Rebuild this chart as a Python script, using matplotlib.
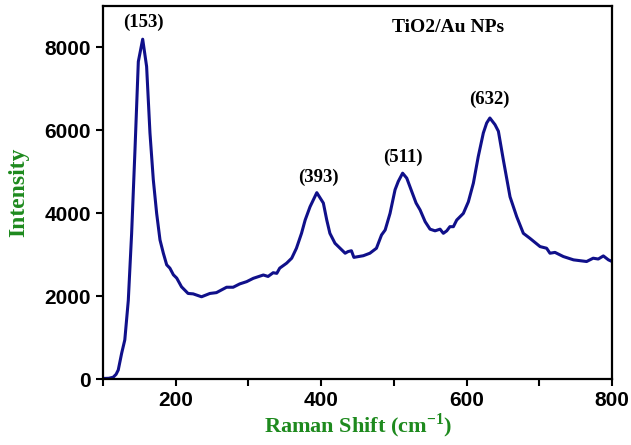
import matplotlib
matplotlib.use("Agg")
import matplotlib.pyplot as plt
from matplotlib.ticker import MultipleLocator

raman_shift = [100, 108, 114, 118, 121, 125.7, 130, 134.8, 139.4, 144, 148.6, 154.6, 160, 164.6, 169.2,
               173.8, 178.4, 183, 187.6, 192, 196.8, 201.4, 208, 217, 224, 235.5, 247, 256, 270,
               279, 288, 297.6, 306.7, 320.5, 327, 334, 339, 343, 352.5, 359.5, 366, 373, 378,
               384.7, 394, 403, 407.7, 412, 419, 426, 433, 437, 441.6, 445, 458, 467, 476, 483,
               488, 494.7, 501.6, 506, 512, 517.7, 524.5, 530.5, 536, 543, 549.7, 556.6, 563.5,
               568, 572.7, 577, 581.8, 586.4, 595.5, 602.4, 609.3, 616, 623, 627.6, 632, 639,
               643.7, 650.5, 659.7, 668.9, 678, 687, 701, 710, 714.6, 721.5, 733, 747, 765, 774,
               781, 788, 795, 800]
intensity = [20, 25, 50, 120, 225, 630, 950, 1900, 3520, 5530, 7660, 8200, 7540, 5940, 4810,
             4000, 3360, 3040, 2760, 2680, 2520, 2440, 2230, 2070, 2060, 1990, 2070, 2090, 2220,
             2220, 2300, 2355, 2435, 2515, 2480, 2570, 2555, 2680, 2800, 2920, 3160, 3520, 3840,
             4160, 4500, 4250, 3840, 3520, 3280, 3160, 3040, 3080, 3100, 2940, 2980, 3040, 3160, 3480,
             3600, 4000, 4570, 4770, 4970, 4850, 4530, 4250, 4085, 3800, 3620, 3580, 3620,
             3520, 3580, 3680, 3680, 3840, 4000, 4280, 4730, 5370, 5940, 6180, 6300, 6140,
             5980, 5290, 4400, 3920, 3520, 3400, 3200, 3160, 3040, 3060, 2960, 2880, 2840, 2920,
             2900, 2975, 2880, 2840]

peak_labels = ["(153)", "(393)", "(511)", "(632)"]
peak_label_x = [155, 396, 512.6, 631]
peak_label_y = [8600, 4860, 5360, 6740]

sample_name = "TiO2/Au NPs"
xlabel = "Raman Shift (cm$^{\\mathregular{-1}}$)"
ylabel = "Intensity"

green = "#1e8a1e"
navy = "#10108a"

plt.rcParams["mathtext.fontset"] = "custom"
plt.rcParams["mathtext.rm"] = "Liberation Serif:bold"
plt.rcParams["mathtext.bf"] = "Liberation Serif:bold"

fig = plt.figure(figsize=(6.31, 4.45), dpi=100)
ax = fig.add_axes([0.1632, 0.1476, 0.8068, 0.8389])
ax.plot(raman_shift, intensity, color=navy, lw=2.2)
ax.set_xlim(100, 800)
ax.set_ylim(0, 9000)
ax.xaxis.set_major_locator(MultipleLocator(200))
ax.xaxis.set_minor_locator(MultipleLocator(100))
ax.yaxis.set_major_locator(MultipleLocator(2000))

for s in ax.spines.values():
    s.set_linewidth(1.6)
ax.tick_params(which="both", direction="out", width=1.5, length=5, color="black")
for lab in ax.get_xticklabels() + ax.get_yticklabels():
    lab.set_fontfamily("Liberation Sans")
    lab.set_fontweight("bold")
    lab.set_fontsize(15)

serif = "Liberation Serif"
for t, x, y in zip(peak_labels, peak_label_x, peak_label_y):
    ax.text(x, y, t, ha="center", va="center", fontfamily=serif, fontweight="bold", fontsize=13.5)
ax.text(574.5, 8480, sample_name, ha="center", va="center", fontfamily=serif, fontweight="bold", fontsize=14)

ax.set_xlabel(xlabel, fontfamily=serif, fontweight="bold", fontsize=16, color=green, labelpad=1)
ax.set_ylabel(ylabel, fontfamily=serif, fontweight="bold", fontsize=17, color=green, labelpad=11)

fig.savefig("out.png", dpi=100)
